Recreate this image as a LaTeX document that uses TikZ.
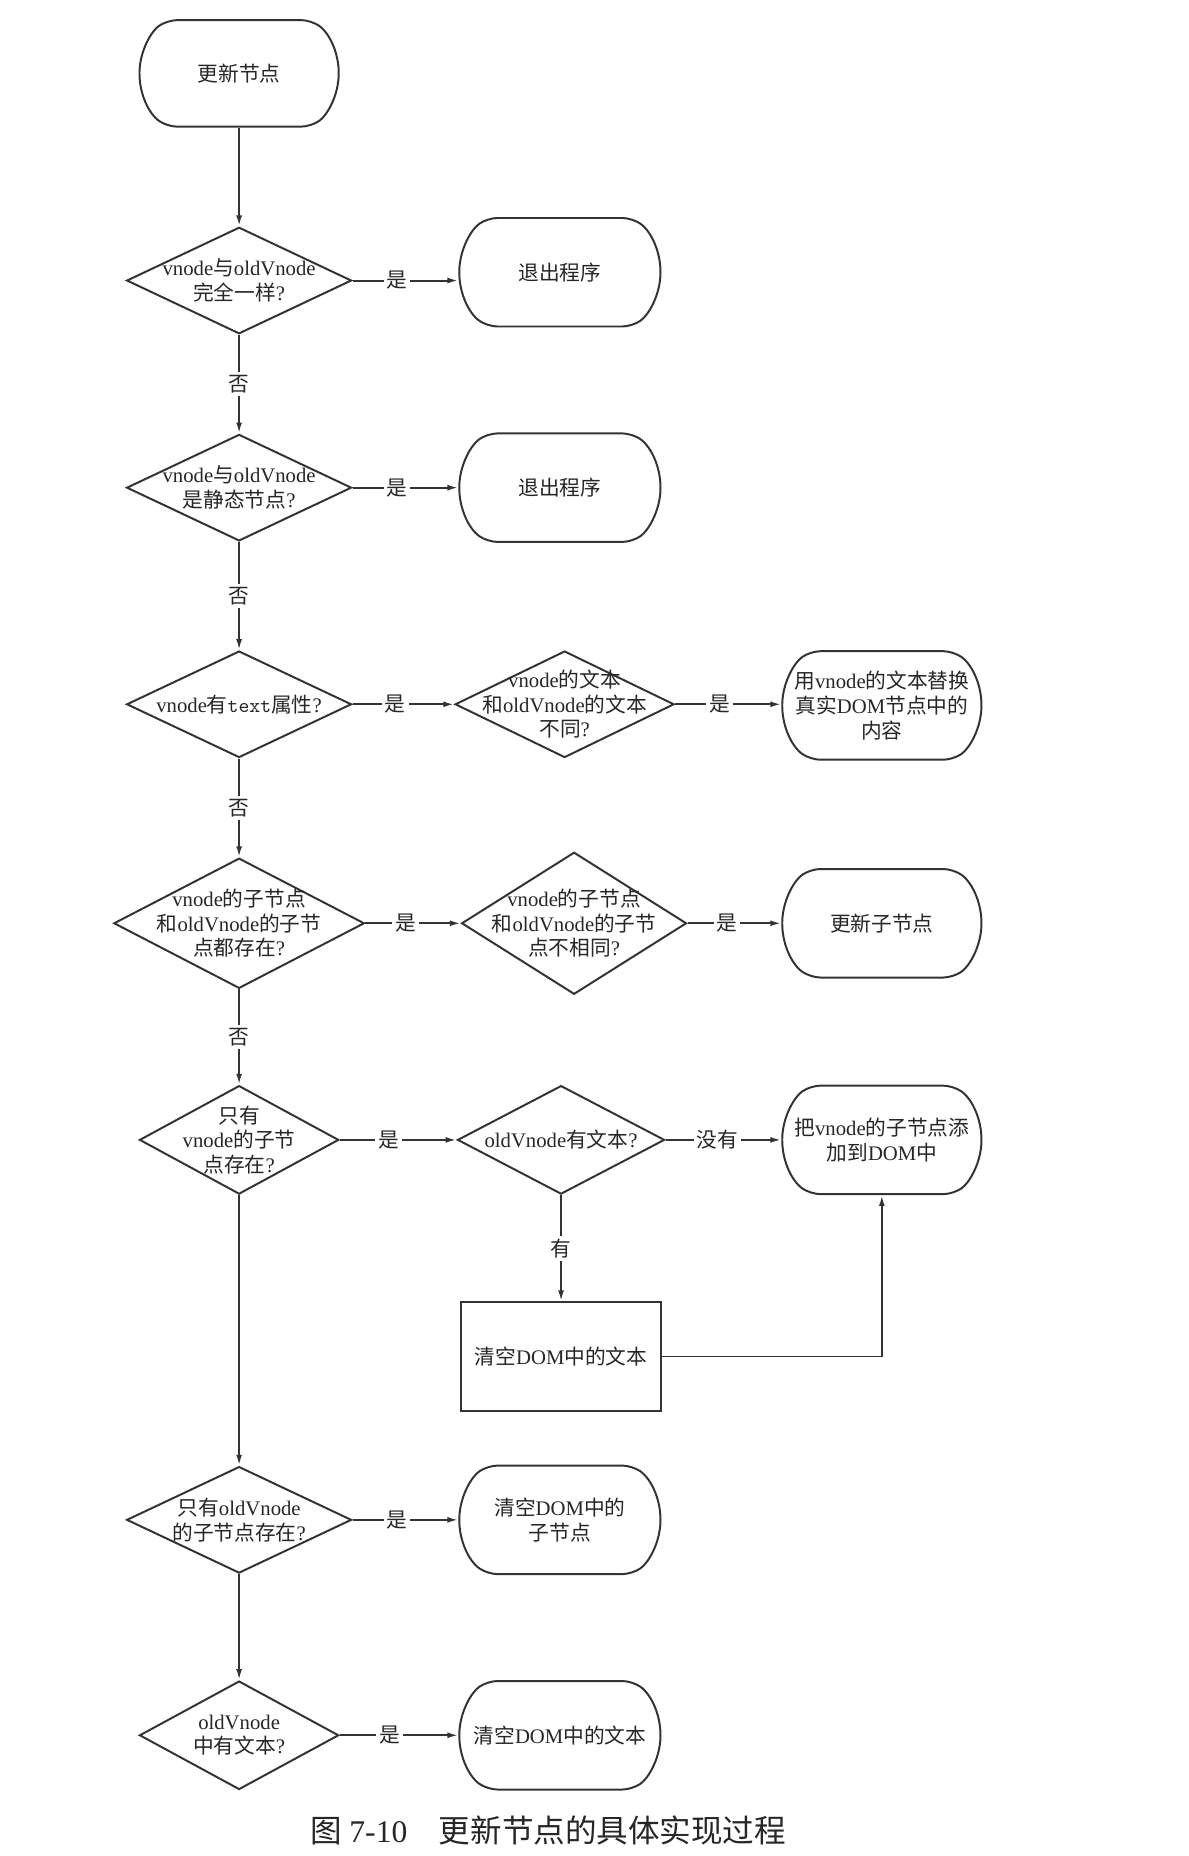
\documentclass[tikz,border=0pt]{standalone}
\usepackage{fontspec}
\setmainfont{Liberation Serif}
\newfontfamily\cjk{Noto Sans CJK SC}
\usetikzlibrary{shapes.geometric,shapes.misc,arrows.meta}

\definecolor{linec}{HTML}{333333}
\definecolor{txtc}{HTML}{262626}

\XeTeXinterchartokenstate=1
\newXeTeXintercharclass\hanclass
\count255="2E80
\loop
  \XeTeXcharclass\count255=\hanclass
  \ifnum\count255<"9FFF \advance\count255 by 1 \repeat
\XeTeXinterchartoks 0 \hanclass = {\cjk}
\XeTeXinterchartoks 4095 \hanclass = {\cjk}
\XeTeXinterchartoks \hanclass 0 = {\rmfamily}
\XeTeXinterchartoks \hanclass 4095 = {\rmfamily}

\begin{document}
\begin{tikzpicture}[x=0.6pt, y=-0.6pt,
        base/.style={draw=linec, line width=1pt},
        txt/.style={align=center, text=txtc, inner sep=0pt, font=\fontsize{10.5}{12.5}\selectfont},
        term/.style={base, rounded rectangle, rounded rectangle arc length=110, rounded corners=5pt, minimum width=102pt, minimum height=55pt, inner sep=0pt},
        decision/.style={base, diamond, minimum width=114pt, minimum height=54pt, inner sep=0pt},
        process/.style={base, rectangle, minimum width=101pt, minimum height=55pt, inner sep=0pt},
        flow/.style={draw=linec, line width=1pt, -{Latex[length=5.5pt, width=3pt]}},
        lbl/.style={fill=white, inner sep=1.5pt, text=txtc, font=\fontsize{10.5}{12.5}\selectfont}]
        \useasboundingbox (0,0) rectangle (1004,1568);

        \node[term, minimum width=101pt, minimum height=54pt, label={[txt]center:更新节点}] (start) at (202,62) {};

        \node[decision, label={[txt]center:{vnode与oldVnode\\完全一样?}}] (d1) at (202,237) {};
        \node[term, label={[txt]center:退出程序}] (ex1) at (473,230) {};

        \node[decision, label={[txt]center:{vnode与oldVnode\\是静态节点?}}] (d2) at (202,412) {};
        \node[term, label={[txt]center:退出程序}] (ex2) at (473,412) {};

        \node[decision, label={[txt]center:{vnode有\texttt{text}属性?}}] (d3) at (202,595) {};
        \node[decision, minimum width=111pt, label={[txt]center:{vnode的文本\\和oldVnode的文本\\不同?}}] (d3b) at (477,595) {};
        \node[term, minimum width=101pt, label={[txt]center:{用vnode的文本替换\\真实DOM节点中的\\内容}}] (b3) at (745,596) {};

        \node[decision, minimum width=127pt, minimum height=66pt, label={[txt]center:{vnode的子节点\\和oldVnode的子节\\点都存在?}}] (d4) at (202,780) {};
        \node[decision, minimum height=72pt, label={[txt]center:{vnode的子节点\\和oldVnode的子节\\点不相同?}}] (d4b) at (485,780) {};
        \node[term, minimum width=101pt, label={[txt]center:更新子节点}] (b4) at (745,780) {};

        \node[decision, minimum width=101pt, minimum height=55pt, label={[txt]center:{只有\\vnode的子节\\点存在?}}] (d5) at (202,963) {};
        \node[decision, minimum width=105pt, minimum height=55pt, label={[txt]center:{oldVnode有文本?}}] (d5b) at (474,963) {};
        \node[term, minimum width=101pt, label={[txt]center:{把vnode的子节点添\\加到DOM中}}] (b5) at (745,963) {};
        \node[process, label={[txt]center:清空DOM中的文本}] (clr) at (474,1146) {};

        \node[decision, label={[txt]center:{只有oldVnode\\的子节点存在?}}] (d6) at (202,1284) {};
        \node[term, label={[txt]center:{清空DOM中的\\子节点}}] (ex6) at (473,1284) {};

        \node[decision, minimum width=101pt, minimum height=55pt, label={[txt]center:{oldVnode\\中有文本?}}] (d7) at (202,1466) {};
        \node[term, label={[txt]center:清空DOM中的文本}] (ex7) at (473,1466) {};

        \node[text=txtc, font=\fontsize{16}{19}\selectfont] (cap) at (463,1546) {图 7-10\quad 更新节点的具体实现过程};

        \draw[flow] (start) -- (d1);
        \foreach \a/\b in {d1/d2, d2/d3, d3/d4, d4/d5} {
            \draw[flow] (\a) -- node[lbl] {否} (\b);
        }
        \foreach \a/\b in {d1/ex1, d2/ex2, d3/d3b, d3b/b3, d4/d4b, d4b/b4, d5/d5b, d6/ex6, d7/ex7} {
            \draw[flow] (\a.east) -- node[lbl, pos=.42] {是} (\a.east -| \b.west);
        }
        \draw[flow] (d5b) -- node[lbl, pos=.45] {没有} (b5);
        \draw[flow] (d5b) -- node[lbl] {有} (clr);
        \draw[flow] (clr.east) -| (b5.south);
        \draw[flow] (d5) -- (d6);
        \draw[flow] (d6) -- (d7);
\end{tikzpicture}
\end{document}
